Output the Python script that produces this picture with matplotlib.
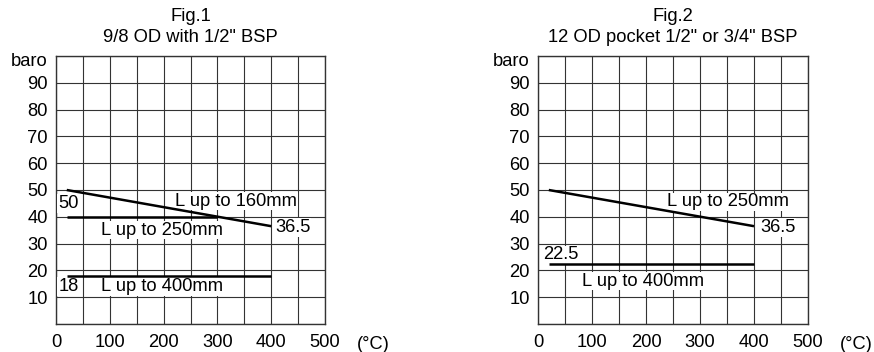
import matplotlib
matplotlib.use("Agg")
import matplotlib.pyplot as plt
from matplotlib.transforms import ScaledTranslation

plt.rcParams['font.family'] = ['Liberation Sans', 'DejaVu Sans']

# Data
yticks = [10, 20, 30, 40, 50, 60, 70, 80, 90]
xticks = [0, 100, 200, 300, 400, 500]

fig1_title = "Fig.1\n9/8 OD with 1/2\" BSP"
fig1_lines = {
    "L up to 160mm": ([20, 400], [50, 36.5]),
    "L up to 250mm": ([20, 300], [40, 40]),
    "L up to 400mm": ([20, 400], [18, 18]),
}
fig1_labels = [
    ("50", 4, 45.0),
    ("L up to 160mm", 221, 45.8),
    ("36.5", 407, 36.0),
    ("L up to 250mm", 84, 35.0),
    ("18", 4, 14.0),
    ("L up to 400mm", 84, 14.0),
]

fig2_title = "Fig.2\n12 OD pocket 1/2\" or 3/4\" BSP"
fig2_lines = {
    "L up to 250mm": ([20, 400], [50, 36.5]),
    "L up to 400mm": ([20, 400], [22.5, 22.5]),
}
fig2_labels = [
    ("L up to 250mm", 238, 45.6),
    ("36.5", 411, 36.0),
    ("22.5", 10, 25.8),
    ("L up to 400mm", 82, 16.0),
]

FS = 13.2

fig = plt.figure(figsize=(8.74, 3.52), dpi=100)
W, H = 874, 352
axes_px = [(56, 325), (538, 808)]
top_px, bot_px = 56, 324

def setup(ax, title, lines, labels):
    ax.set_xlim(0, 500)
    ax.set_ylim(0, 100)
    ax.set_xticks(range(0, 501, 50), minor=False)
    ax.set_yticks(range(0, 101, 10))
    ax.grid(True, color='#333333', linewidth=0.8)
    ax.set_axisbelow(True)
    ax.tick_params(axis='x', length=0, labelsize=FS, pad=7)
    ax.tick_params(axis='y', length=0, labelsize=FS, pad=6)
    ax.set_xticklabels([str(v) if v in xticks else '' for v in range(0, 501, 50)])
    ax.set_yticklabels([str(v) if v in yticks else ('baro' if v == 100 else '') for v in range(0, 101, 10)])
    lbl = ax.get_yticklabels()[-1]
    lbl.set_transform(lbl.get_transform() + ScaledTranslation(0, -3 / 100, fig.dpi_scale_trans))
    for s in ax.spines.values():
        s.set_color('#333333')
        s.set_linewidth(1.0)
    for name, (xs, ys) in lines.items():
        ax.plot(xs, ys, color='black', linewidth=1.8, solid_capstyle='butt', zorder=5)
    for txt, x, y in labels:
        ax.text(x, y, txt, fontsize=FS, ha='left', va='center', zorder=4,
                bbox=dict(facecolor='white', edgecolor='none', pad=0.5))
    ax.text(590, -4.5, "(°C)", fontsize=FS, ha='center', va='top', clip_on=False)
    ax.set_title(title, fontsize=FS, pad=10, linespacing=1.3)

for (l, r), title, lines, labels in [
    (axes_px[0], fig1_title, fig1_lines, fig1_labels),
    (axes_px[1], fig2_title, fig2_lines, fig2_labels),
]:
    ax = fig.add_axes([l / W, 1 - bot_px / H, (r - l) / W, (bot_px - top_px) / H])
    setup(ax, title, lines, labels)

fig.savefig("out.png", dpi=100)
